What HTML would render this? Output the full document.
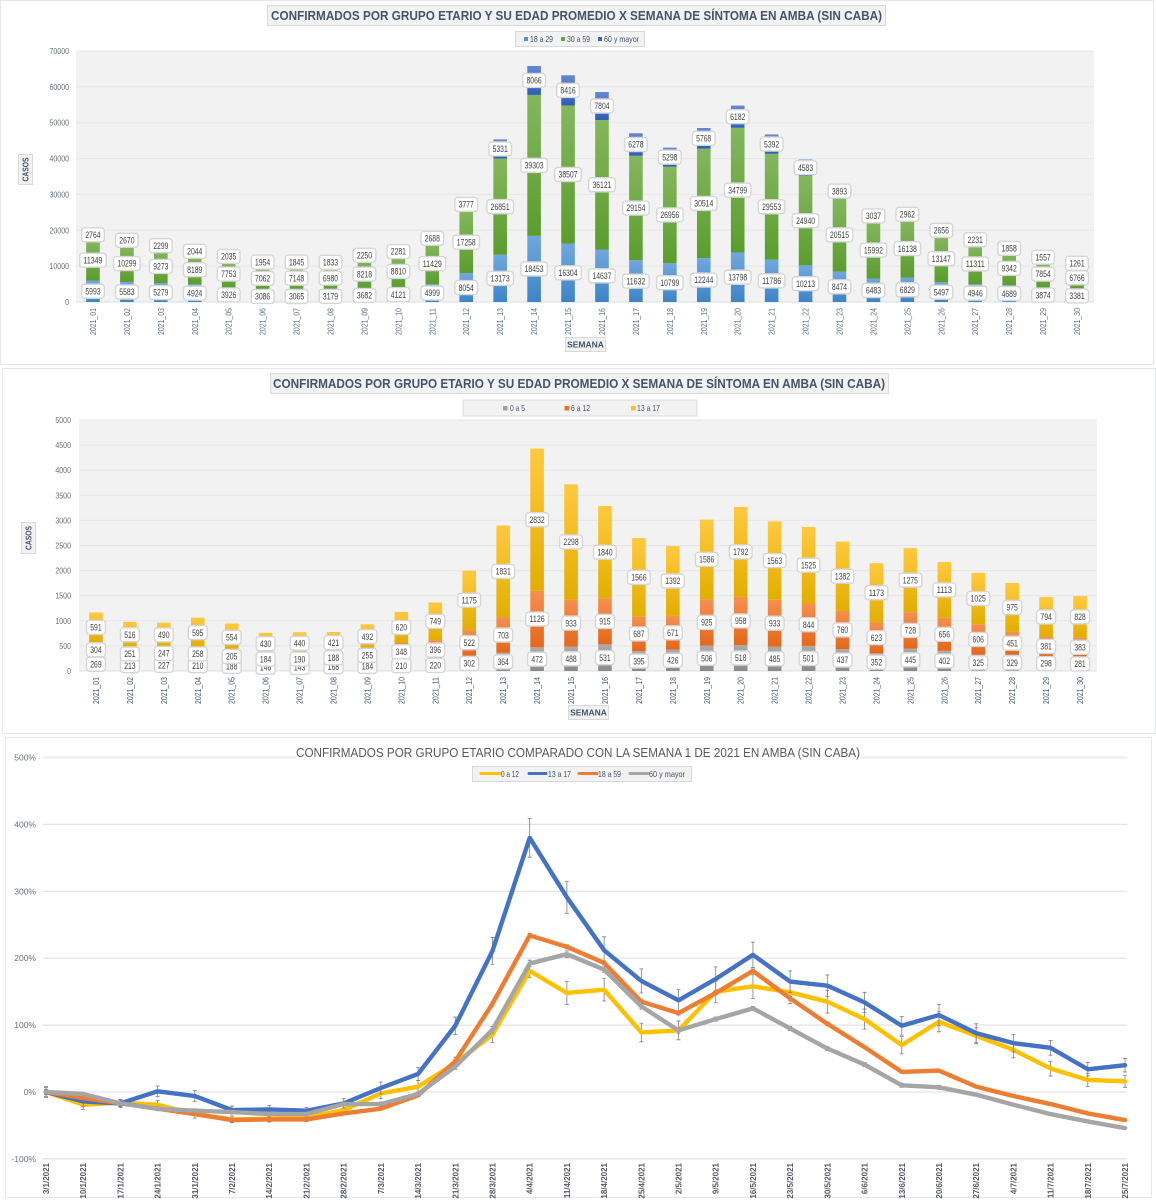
<!DOCTYPE html>
<html lang="es">
<head>
<meta charset="utf-8">
<title>Confirmados por grupo etario</title>
<style>
html,body{margin:0;padding:0;background:#fff;width:1156px;height:1200px;overflow:hidden}
svg{display:block;font-family:"Liberation Sans",sans-serif}
.tick{font-size:8.5px;fill:#66707c}
.box{fill:#f2f2f2;stroke:#d9d9d9;stroke-width:1}
.legend-text{font-size:8.5px;fill:#44546a}
.axis-title{font-size:8.5px;font-weight:bold;fill:#44546a}
</style>
</head>
<body>
<svg id="chart-root" xmlns="http://www.w3.org/2000/svg" width="1156" height="1200" viewBox="0 0 1156 1200">
  <defs>
    <linearGradient id="g-blue" x1="0" y1="0" x2="0" y2="1"><stop offset="0" stop-color="#71a7de"/><stop offset="1" stop-color="#3d84c6"/></linearGradient>
    <linearGradient id="g-green" x1="0" y1="0" x2="0" y2="1"><stop offset="0" stop-color="#84b75e"/><stop offset="1" stop-color="#5b9d2d"/></linearGradient>
    <linearGradient id="g-navy" x1="0" y1="0" x2="0" y2="1"><stop offset="0" stop-color="#6488d2"/><stop offset="1" stop-color="#2e5eb8"/></linearGradient>
    <linearGradient id="g-gray" x1="0" y1="0" x2="0" y2="1"><stop offset="0" stop-color="#ababab"/><stop offset="1" stop-color="#8a8a8a"/></linearGradient>
    <linearGradient id="g-orange" x1="0" y1="0" x2="0" y2="1"><stop offset="0" stop-color="#f5904f"/><stop offset="1" stop-color="#e5671a"/></linearGradient>
    <linearGradient id="g-yellow" x1="0" y1="0" x2="0" y2="1"><stop offset="0" stop-color="#ffc93f"/><stop offset="1" stop-color="#e2ae00"/></linearGradient>
  </defs>

  <g id="chart-1">
    <rect x="0.5" y="0.5" width="1153" height="364" fill="#fff" stroke="#e4e7ec"/>
    <rect x="76" y="51" width="1018" height="251" fill="#f2f2f2"/>
    <g id="c1-grid"></g>
    <g id="c1-marks"></g>
    <g id="c1-labels"></g>
    <rect class="box" x="267.5" y="5.5" width="618" height="20"/>
    <text x="271" y="20" font-size="13" font-weight="bold" fill="#44546a" textLength="611" lengthAdjust="spacingAndGlyphs">CONFIRMADOS POR GRUPO ETARIO Y SU EDAD PROMEDIO X SEMANA DE SÍNTOMA EN AMBA (SIN CABA)</text>
    <g>
      <rect class="box" x="515.5" y="31.5" width="129" height="15"/>
      <rect x="524" y="37" width="4" height="4" fill="#4f94d4"/>
      <text class="legend-text" x="530" y="42" textLength="23" lengthAdjust="spacingAndGlyphs">18 a 29</text>
      <rect x="561" y="37" width="4" height="4" fill="#66a838"/>
      <text class="legend-text" x="567" y="42" textLength="23" lengthAdjust="spacingAndGlyphs">30 a 59</text>
      <rect x="598" y="37" width="4" height="4" fill="#3a68c2"/>
      <text class="legend-text" x="604" y="42" textLength="35" lengthAdjust="spacingAndGlyphs">60 y mayor</text>
    </g>
    <g>
      <rect class="box" x="18.5" y="154.5" width="14" height="30"/>
      <text class="axis-title" transform="translate(28.5,169.5) rotate(-90)" text-anchor="middle" textLength="24" lengthAdjust="spacingAndGlyphs">CASOS</text>
    </g>
    <g>
      <rect class="box" x="565.5" y="337.5" width="40" height="14"/>
      <text class="axis-title" x="585.5" y="347.5" text-anchor="middle">SEMANA</text>
    </g>
  </g>

  <g id="chart-2">
    <rect x="2.5" y="368.5" width="1153" height="365" fill="#fff" stroke="#e4e7ec"/>
    <rect x="79" y="420" width="1018" height="251" fill="#f2f2f2"/>
    <g id="c2-grid"></g>
    <g id="c2-marks"></g>
    <g id="c2-labels"></g>
    <rect class="box" x="270.5" y="373.5" width="618" height="20"/>
    <text x="273" y="388" font-size="13" font-weight="bold" fill="#44546a" textLength="612" lengthAdjust="spacingAndGlyphs">CONFIRMADOS POR GRUPO ETARIO Y SU EDAD PROMEDIO X SEMANA DE SÍNTOMA EN AMBA (SIN CABA)</text>
    <g>
      <rect class="box" x="463" y="400" width="234" height="16" stroke-width="1.2"/>
      <rect x="503" y="406" width="4.5" height="4.5" fill="#a0a0a0"/>
      <text class="legend-text" x="510" y="411" textLength="15" lengthAdjust="spacingAndGlyphs">0 a 5</text>
      <rect x="564.5" y="406" width="4.5" height="4.5" fill="#ed7020"/>
      <text class="legend-text" x="571" y="411" textLength="19" lengthAdjust="spacingAndGlyphs">6 a 12</text>
      <rect x="631" y="406" width="4.5" height="4.5" fill="#fdbf1a"/>
      <text class="legend-text" x="637" y="411" textLength="23" lengthAdjust="spacingAndGlyphs">13 a 17</text>
    </g>
    <g>
      <rect class="box" x="21.5" y="522.5" width="14" height="31"/>
      <text class="axis-title" transform="translate(31.5,538) rotate(-90)" text-anchor="middle" textLength="24" lengthAdjust="spacingAndGlyphs">CASOS</text>
    </g>
    <g>
      <rect class="box" x="568.5" y="705.5" width="40" height="14"/>
      <text class="axis-title" x="588.5" y="715.5" text-anchor="middle">SEMANA</text>
    </g>
  </g>

  <g id="chart-3">
    <rect x="5.5" y="737.5" width="1146" height="460" fill="#fff" stroke="#e4e7ec"/>
    <g id="c3-grid"></g>
    <rect x="296" y="745" width="564" height="15" fill="#fff"/>
    <text x="296" y="757" font-size="12.5" fill="#595959" textLength="564" lengthAdjust="spacingAndGlyphs">CONFIRMADOS POR GRUPO ETARIO COMPARADO CON LA SEMANA 1 DE 2021 EN AMBA (SIN CABA)</text>
    <g id="c3-marks"></g>
    <g>
      <rect class="box" x="472.5" y="766.5" width="219" height="15"/>
      <line x1="481" x2="500" y1="773.5" y2="773.5" stroke="#ffc000" stroke-width="3" stroke-linecap="round"/>
      <text class="legend-text" x="501" y="777" textLength="18" lengthAdjust="spacingAndGlyphs">0 a 12</text>
      <line x1="529" x2="546" y1="773.5" y2="773.5" stroke="#4472c4" stroke-width="3" stroke-linecap="round"/>
      <text class="legend-text" x="548" y="777" textLength="23" lengthAdjust="spacingAndGlyphs">13 a 17</text>
      <line x1="579" x2="597" y1="773.5" y2="773.5" stroke="#ed7d31" stroke-width="3" stroke-linecap="round"/>
      <text class="legend-text" x="598" y="777" textLength="23" lengthAdjust="spacingAndGlyphs">18 a 59</text>
      <line x1="630" x2="648" y1="773.5" y2="773.5" stroke="#a5a5a5" stroke-width="3" stroke-linecap="round"/>
      <text class="legend-text" x="649" y="777" textLength="36" lengthAdjust="spacingAndGlyphs">60 y mayor</text>
    </g>
  </g>
</svg>

<script>
/* ---------- chart 1 data ---------- */
const weeks = ["2021_01","2021_02","2021_03","2021_04","2021_05","2021_06","2021_07","2021_08","2021_09","2021_10","2021_11","2021_12","2021_13","2021_14","2021_15","2021_16","2021_17","2021_18","2021_19","2021_20","2021_21","2021_22","2021_23","2021_24","2021_25","2021_26","2021_27","2021_28","2021_29","2021_30"];
const cases18to29 = [5993,5583,5279,4924,3926,3086,3065,3179,3682,4121,4999,8054,13173,18453,16304,14637,11632,10799,12244,13798,11786,10213,8474,6483,6829,5497,4946,4689,3874,3381];
const cases30to59 = [11349,10299,9273,8189,7753,7062,7148,6980,8218,8810,11429,17258,26851,39303,38507,36121,29154,26956,30514,34799,29553,24940,20515,15992,16138,13147,11311,9342,7854,6766];
const cases60plus = [2764,2670,2299,2044,2035,1954,1845,1833,2250,2281,2688,3777,5331,8066,8416,7804,6278,5298,5768,6182,5392,4583,3893,3037,2962,2656,2231,1858,1557,1261];
const adultTicks = [0,10000,20000,30000,40000,50000,60000,70000];

/* ---------- chart 2 data ---------- */
const cases0to5 = [269,213,227,210,188,146,143,168,184,210,220,302,364,472,488,531,395,426,506,518,485,501,437,352,445,402,325,329,298,281];
const cases6to12 = [304,251,247,258,205,184,190,188,255,348,396,522,703,1126,933,915,687,671,925,958,933,844,760,623,728,656,606,451,381,383];
const cases13to17 = [591,516,490,595,554,430,440,421,492,620,749,1175,1831,2832,2298,1840,1566,1392,1586,1792,1563,1525,1382,1173,1275,1113,1025,975,794,828];
const minorTicks = [0,500,1000,1500,2000,2500,3000,3500,4000,4500,5000];

/* ---------- chart 3 data ---------- */
const dates = ["3/1/2021","10/1/2021","17/1/2021","24/1/2021","31/1/2021","7/2/2021","14/2/2021","21/2/2021","28/2/2021","7/3/2021","14/3/2021","21/3/2021","28/3/2021","4/4/2021","11/4/2021","18/4/2021","25/4/2021","2/5/2021","9/5/2021","16/5/2021","23/5/2021","30/5/2021","6/6/2021","13/6/2021","20/6/2021","27/6/2021","4/7/2021","11/7/2021","18/7/2021","25/7/2021"];
const pct0to12 = [0,-19,-16,-19,-33,-41,-40,-38,-27,-2,8,43,86,181,148,153,89,92,150,158,149,135,109,70,105,84,63,35,18,16];
const pct13to17 = [0,-14,-17,1,-6,-27,-26,-28,-17,6,27,99,211,380,291,212,166,137,169,205,165,159,134,99,115,88,73,66,34,40];
const pct18to59 = [0,-9,-17,-25,-33,-42,-41,-41,-32,-25,-5,46,132,234,217,193,135,118,148,181,140,102,67,30,32,8,-6,-18,-32,-42];
const pct60plus = [0,-3,-17,-25,-28,-30,-33,-33,-18,-18,-3,38,93,192,206,183,128,92,109,125,95,65,41,10,7,-4,-19,-33,-44,-54];
const err0to12 = [7,7,5,6,6,5,5,5,6,8,9,9,12,10,17,17,14,14,16,18,17,17,15,13,15,12,12,11,10,9];
const err13to17 = [8,8,6,8,8,6,6,5,7,9,10,13,20,29,24,20,18,16,18,19,16,16,15,14,16,14,13,11,10,10];
const err18to59 = [2,2,2,2,2,3,3,3,2,2,2,3,3,3,3,3,3,3,3,3,3,3,2,2,2,1,1,1,1,1];
const err60plus = [4,2,5,3,3,3,3,3,3,3,3,4,5,5,5,4,4,4,3,3,3,3,3,3,3,2,2,2,1,1];
const pctTicks = [-100,0,100,200,300,400,500];

const NS = "http://www.w3.org/2000/svg";
function mk(tag, parentId, props) {
  const node = document.createElementNS(NS, tag);
  for (const k in props) node.setAttribute(k, props[k]);
  document.getElementById(parentId).appendChild(node);
  return node;
}

function drawStacked(prefix, box, ticks, series, xLabelColor, labelRight) {
  const step = (box.right - box.left) / weeks.length;
  const xScale = i => box.left + step * (i + 0.5);
  const yScale = v => box.bottom - (v / box.max) * (box.bottom - box.top);

  ticks.forEach(t => {
    if (t > 0) {
      const gl = mk("line", prefix + "-grid", {x1: box.left, x2: box.right, y1: yScale(t), y2: yScale(t), stroke: "#e4e6e9", "stroke-width": 1});
      
      
    }
    const tl = mk("text", prefix + "-grid", {class: "tick", x: labelRight, y: yScale(t) + 3, "text-anchor": "end", textLength: String(t).length * 3.9, lengthAdjust: "spacingAndGlyphs"});
    
    
    tl.textContent = t;
  });

  const base = mk("line", prefix + "-grid", {x1: box.left, x2: box.right, y1: box.bottom, y2: box.bottom, stroke: "#dcdfe3", "stroke-width": 1});
  
  

  weeks.forEach((w, i) => {
    const xl = mk("text", prefix + "-grid", {transform: "translate(" + (xScale(i) + 3) + "," + (box.bottom + 6) + ") rotate(-90)", "text-anchor": "end", "font-size": 8.5, fill: xLabelColor, textLength: 27, lengthAdjust: "spacingAndGlyphs"});
    
    
    xl.textContent = w;
  });

  const cum = weeks.map(() => 0);
  series.forEach(s => {
    s.values.forEach((v, i) => {
      const y0 = yScale(cum[i]);
      const y1 = yScale(cum[i] + v);
      const bar = mk("rect", prefix + "-marks", {x: xScale(i) - 6.8, y: y1, width: 13.6, height: y0 - y1, fill: "url(#" + s.grad + ")"});
      
      

      const cy = (y0 + y1) / 2;
      const digits = String(v).length;
      const w = digits * 3.8 + 7.5;
      const lb = mk("rect", prefix + "-labels", {x: xScale(i) - w / 2, y: cy - 7, width: w, height: 14, rx: 3, ry: 3, fill: "#fff", stroke: "#d6d6d6", "stroke-width": 1.4});
      
      
      const lt = mk("text", prefix + "-labels", {x: xScale(i), y: cy + 3.2, "text-anchor": "middle", "font-size": 9, fill: "#404040", textLength: digits * 3.8, lengthAdjust: "spacingAndGlyphs"});
      
      
      lt.textContent = v;
      cum[i] += v;
    });
  });
}

drawStacked("c1", {left: 76, right: 1094, top: 51, bottom: 302, max: 70000}, adultTicks,
  [{values: cases18to29, grad: "g-blue"}, {values: cases30to59, grad: "g-green"}, {values: cases60plus, grad: "g-navy"}],
  "#5b6b85", 69);

drawStacked("c2", {left: 79, right: 1097, top: 420, bottom: 671, max: 5000}, minorTicks,
  [{values: cases0to5, grad: "g-gray"}, {values: cases6to12, grad: "g-orange"}, {values: cases13to17, grad: "g-yellow"}],
  "#44546a", 71);

/* ---------- chart 3 ---------- */
const lineX = i => 46 + (1125 - 46) * i / (dates.length - 1);
const lineY = v => 1092 - v * 0.669;

pctTicks.forEach(t => {
  const gl = mk("line", "c3-grid", {x1: 43, x2: 1127, y1: lineY(t), y2: lineY(t), stroke: t === 500 ? "#ececec" : "#e3e3e3", "stroke-width": t === 500 ? 2 : 1.2});
  
  
  const tl = mk("text", "c3-grid", {class: "tick", x: 36, y: lineY(t) + 3, "text-anchor": "end"});
  
  
  tl.textContent = t + "%";
});

dates.forEach((d, i) => {
  const xl = mk("text", "c3-grid", {transform: "translate(" + (lineX(i) + 3) + ",1163) rotate(-90)", "text-anchor": "end", "font-size": 8, "font-weight": "bold", fill: "#55595f"});
  
  
  xl.textContent = d;
});

[
  {values: pct0to12, errs: err0to12, color: "#ffc000"},
  {values: pct13to17, errs: err13to17, color: "#4472c4"},
  {values: pct18to59, errs: err18to59, color: "#ed7d31"},
  {values: pct60plus, errs: err60plus, color: "#a5a5a5"}
].forEach(s => {
  const pts = s.values.map((v, i) => lineX(i) + "," + lineY(v)).join(" ");
  s.values.forEach((v, i) => {
    const hi = lineY(v + s.errs[i]);
    const lo = lineY(v - s.errs[i]);
    const x = lineX(i);
    const eb = mk("path", "c3-marks", {d: "M" + (x - 2) + " " + hi + "H" + (x + 2) + "M" + x + " " + hi + "V" + lo + "M" + (x - 2) + " " + lo + "H" + (x + 2), stroke: "#7f7f7f", "stroke-width": 0.8, fill: "none"});
    
    
  });
  const line = mk("polyline", "c3-marks", {points: pts, fill: "none", stroke: s.color, "stroke-width": 4.4, "stroke-linejoin": "round", "stroke-linecap": "round"});
  
  
});
</script>
</body>
</html>
